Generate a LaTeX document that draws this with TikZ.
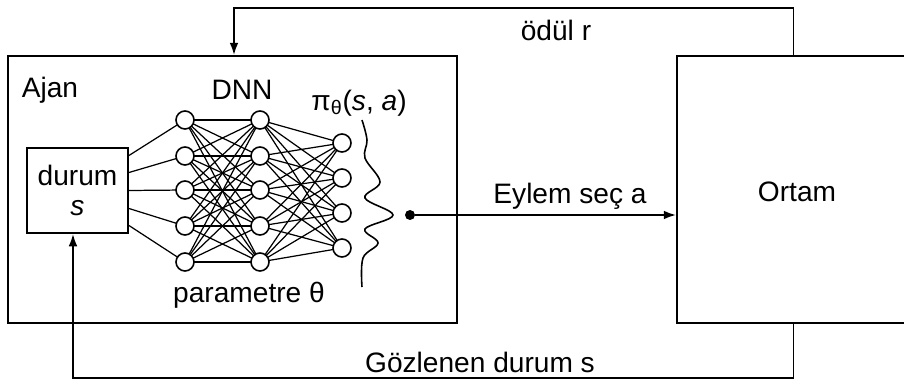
\documentclass[tikz,border=0pt]{standalone}
\usepackage{fontspec}
\setmainfont{Liberation Sans}
\usetikzlibrary{arrows.meta}
\begin{document}
\begin{tikzpicture}[x=0.02cm,y=-0.02cm,
  lbl/.style={font=\fontsize{16}{17}\selectfont, inner sep=0},
  box/.style={draw, line width=1.1pt, inner sep=0},
  neuron/.style={circle, draw, line width=0.9pt, fill=white, minimum size=0.36cm, inner sep=0},
  wire/.style={line width=0.7pt},
  conn/.style={line width=1.1pt},
  arr/.style={conn, -{Latex[length=7pt,width=5pt]}}]
\clip (0,0) rectangle (904,385);
\useasboundingbox (0,0) rectangle (904,385);
% boxes
\node[box, minimum width=8.98cm, minimum height=5.34cm] (ajan) at (232.5,189.5) {};
\node[box, minimum width=4.66cm, minimum height=5.34cm] (ortam) at (793.5,189.5) {};
\node[lbl] (ortamt) at (797,192) {Ortam};
\node[box, minimum width=2.02cm, minimum height=1.7cm, align=center, lbl] (durum) at (77.5,190.5) {durum\\\textit{s}};
\node[lbl] (ajant) at (50,90) {Ajan};
\node[lbl] (dnn) at (242,90) {DNN};
\node[lbl] (pi) at (359,103) {π\textsubscript{θ}(\textit{s}, \textit{a})};
\node[lbl] (param) at (249,295) {parametre θ};
% neurons (positions)
\foreach \i/\y in {1/120,2/156,3/190,4/226,5/262}{
  \coordinate (a\i) at (185,\y);
  \coordinate (b\i) at (260,\y);
}
\foreach \i/\y in {1/143,2/178,3/213,4/248}{
  \coordinate (c\i) at (342,\y);
}
% wires
\foreach \i/\d in {1/-35,2/-18,3/0,4/18,5/35}{
  \draw[wire] ([yshift={-\d*0.02cm}]durum.east) -- (a\i);
}
\foreach \i in {1,...,5}{
  \foreach \j in {1,...,5}{
    \draw[wire] (a\i) -- (b\j);
  }
  \foreach \j in {1,...,4}{
    \draw[wire] (b\i) -- (c\j);
  }
}
% neurons drawn on top
\foreach \i in {1,...,5}{
  \node[neuron] (na\i) at (a\i) {};
  \node[neuron] (nb\i) at (b\i) {};
}
\foreach \i in {1,...,4}{
  \node[neuron] (nc\i) at (c\i) {};
}
% policy wave
\draw[line width=0.9pt] plot[smooth, tension=0.6] coordinates {(362,120) (367,140) (365,158) (380,182) (365,198) (393,215) (365,229) (378,243) (363,258) (362,287)};
% action
\node[circle, fill, inner sep=0, minimum size=0.2cm] (dot) at (410,215) {};
\draw[arr] (dot) -- (ortam.west |- dot);
\node[lbl] (eylem) at (570,196) {Eylem seç a};
% reward loop
\coordinate (rt) at (234,8);
\draw[arr] (ortam.north) |- (rt) -- (rt |- ajan.north);
\node[lbl] (odul) at (556,30) {ödül r};
% observation loop
\coordinate (lb) at (73,378);
\draw[arr] (ortam.south) |- (lb) -- (lb |- durum.south);
\node[lbl] (goz) at (480,362) {Gözlenen durum s};
\end{tikzpicture}
\end{document}
